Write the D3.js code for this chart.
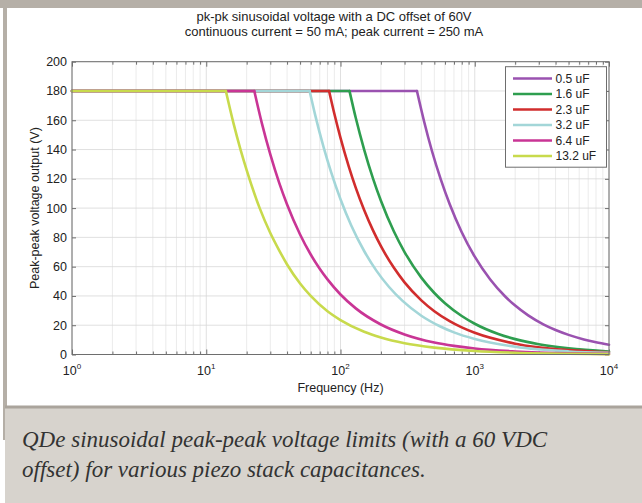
<!DOCTYPE html>
<html><head><meta charset="utf-8">
<script src="https://cdn.jsdelivr.net/npm/d3@7"></script>
<style>
html,body{margin:0;padding:0;background:#fff;}
svg{display:block;}
</style></head>
<body>
<svg id="chart" width="642" height="503"></svg>
<script>
// ---------- data ----------
const seriesNames = ["0.5 uF","1.6 uF","2.3 uF","3.2 uF","6.4 uF","13.2 uF"];
const seriesColors = ["#9a52b0","#2e9e4f","#d12d2d","#a3d6d8","#c93595","#c8da4c"];

const f_05  = [1, 371, 420, 480, 560, 650, 800, 1000, 1300, 1679, 2000, 2500, 3242, 4000, 5000, 6500, 8000, 10000];
const v_05  = [180, 180, 159, 139, 119.3, 102.8, 83.5, 66.8, 51.4, 39.8, 33.4, 26.7, 20.6, 16.7, 13.4, 10.3, 8.4, 6.7];

const f_16  = [1, 116.7, 130, 150, 175, 200, 250, 300, 400, 500, 600, 800, 1000, 1500, 2000, 3000, 5000, 10000];
const v_16  = [180, 180, 161.5, 140, 120, 105, 84, 70, 52.5, 42, 35, 26.3, 21, 14, 10.5, 7, 4.2, 2.1];

const f_23  = [1, 82.2, 90, 100, 115, 130, 150, 175, 200, 250, 300, 400, 500, 650, 800, 1000, 2000, 5000, 10000];
const v_23  = [180, 180, 164.4, 148, 128.7, 113.8, 98.7, 84.6, 74, 59.2, 49.3, 37, 29.6, 22.8, 18.5, 14.8, 7.4, 3, 1.5];

const f_32  = [1, 58.9, 65, 75, 85, 100, 120, 150, 185, 230, 290, 400, 550, 700, 1000, 2000, 5000, 10000];
const v_32  = [180, 180, 163, 141.3, 124.7, 106, 88.3, 70.7, 57.3, 46.1, 36.6, 26.5, 19.3, 15.1, 10.6, 5.3, 2.1, 1.1];

const f_64  = [1, 22.8, 26, 30, 35, 40, 50, 60, 70, 80, 100, 130, 200, 300, 500, 700, 1000, 2000, 5000, 10000];
const v_64  = [180, 180, 157.7, 136.7, 117.1, 102.5, 82, 68.3, 58.6, 51.3, 41, 31.5, 20.5, 13.7, 8.2, 5.9, 4.1, 2.1, 0.8, 0.4];

const f_132 = [1, 14, 16, 18, 20, 25, 30, 35, 40, 50, 60, 80, 100, 150, 200, 300, 500, 1000, 2000, 5000, 10000];
const v_132 = [180, 180, 157.5, 140, 126, 100, 83, 71, 61.5, 48.5, 40, 29.5, 23.5, 15.5, 11.6, 7.7, 4.7, 2.4, 1.2, 0.5, 0.25];

const yTicks = [0, 20, 40, 60, 80, 100, 120, 140, 160, 180, 200];
const xDecades = [0, 1, 2, 3, 4];

const titleLines = ["pk-pk sinusoidal voltage with a DC offset of 60V",
                    "continuous current = 50 mA; peak current = 250 mA"];
const xLabel = "Frequency (Hz)";
const yLabel = "Peak-peak voltage output (V)";
const captionLines = ["QDe sinusoidal peak-peak voltage limits (with a 60 VDC",
                      "offset) for various piezo stack capacitances."];

const seriesF = [f_05, f_16, f_23, f_32, f_64, f_132];
const seriesV = [v_05, v_16, v_23, v_32, v_64, v_132];

// ---------- layout ----------
const svg = d3.select("#chart");
const L = 72, R = 609, T = 61.7, B = 354.5;

// page frame
svg.append("rect").attr("x",0).attr("y",0).attr("width",642).attr("height",8).attr("fill","#b5afa7");
svg.append("rect").attr("x",3).attr("y",0).attr("width",4).attr("height",440).attr("fill","#b5afa7");
svg.append("rect").attr("x",5).attr("y",406).attr("width",637).attr("height",97).attr("fill","#d7d3cd");
svg.append("rect").attr("x",5).attr("y",405.5).attr("width",637).attr("height",3).attr("fill","#aaa49c");

const x = d3.scaleLog().domain([1, 10000]).range([L, R]);
const y = d3.scaleLinear().domain([0, 200]).range([B, T]);

// all log ticks
const allX = [];
xDecades.forEach(d => {
  if (d < 4) for (let m = 1; m <= 9; m++) allX.push(m * Math.pow(10, d));
  else allX.push(Math.pow(10, d));
});
const majorX = xDecades.map(d => Math.pow(10, d));
const minorX = allX.filter(v => !majorX.includes(v));

const g = svg.append("g");
// grid
g.selectAll(".gx").data(allX).join("line")
  .attr("x1", d => x(d)).attr("x2", d => x(d)).attr("y1", T).attr("y2", B)
  .attr("stroke", d => majorX.includes(d) ? "#d8d8d8" : "#e6e6e6").attr("stroke-width", 0.8);
g.selectAll(".gy").data(yTicks).join("line")
  .attr("x1", L).attr("x2", R).attr("y1", d => y(d)).attr("y2", d => y(d))
  .attr("stroke", "#d8d8d8").attr("stroke-width", 0.8);

// axes (inward ticks)
const axisColor = "#6e6e6e";
const tf = "Liberation Sans, Arial, sans-serif";
function styleAxis(sel) {
  sel.select(".domain").remove();
  sel.selectAll(".tick line").attr("stroke", axisColor);
  sel.selectAll(".tick text").attr("fill", "#222").style("font-family", tf).style("font-size", "12.5px");
}
svg.append("g").attr("transform", `translate(0,${B})`)
  .call(d3.axisBottom(x).tickValues(minorX).tickSize(-3).tickFormat("")).call(styleAxis);
svg.append("g").attr("transform", `translate(0,${B})`)
  .call(d3.axisBottom(x).tickValues(majorX).tickSize(-5).tickFormat("")).call(styleAxis);
svg.append("g").attr("transform", `translate(0,${T})`)
  .call(d3.axisTop(x).tickValues(minorX).tickSize(-3).tickFormat("")).call(styleAxis);
svg.append("g").attr("transform", `translate(0,${T})`)
  .call(d3.axisTop(x).tickValues(majorX).tickSize(-5).tickFormat("")).call(styleAxis);
svg.append("g").attr("transform", `translate(${L},0)`)
  .call(d3.axisLeft(y).tickValues(yTicks).tickSize(-4).tickPadding(5).tickFormat(d3.format("d"))).call(styleAxis);
svg.append("g").attr("transform", `translate(${R},0)`)
  .call(d3.axisRight(y).tickValues(yTicks).tickSize(-4).tickFormat("")).call(styleAxis);

// x tick labels 10^n
const xl = svg.append("g").style("font-family", tf).attr("fill", "#222");
xDecades.forEach(d => {
  const t = xl.append("text").attr("x", x(Math.pow(10, d))).attr("y", 375)
    .attr("text-anchor", "middle").style("font-size", "12.5px");
  t.append("tspan").text("10");
  t.append("tspan").attr("dy", -6).style("font-size", "8px").text(String(d));
});

// series
const lineLin = d3.line().x(p => x(p[0])).y(p => y(p[1]));
const lineCurve = d3.line().x(p => x(p[0])).y(p => y(p[1])).curve(d3.curveMonotoneX);
const plot = svg.append("g");
seriesNames.forEach((name, i) => {
  const pts = seriesF[i].map((f, j) => [f, seriesV[i][j]]);
  plot.append("path").attr("d", lineLin(pts.slice(0, 2)))
    .attr("fill", "none").attr("stroke", seriesColors[i]).attr("stroke-width", 2.6).attr("stroke-linecap", "round");
  plot.append("path").attr("d", lineCurve(pts.slice(1)))
    .attr("fill", "none").attr("stroke", seriesColors[i]).attr("stroke-width", 2.6)
    .attr("stroke-linecap", "round").attr("stroke-linejoin", "round");
});

// box
svg.append("rect").attr("x", L).attr("y", T).attr("width", R - L).attr("height", B - T)
  .attr("fill", "none").attr("stroke", axisColor).attr("stroke-width", 1);

// legend
const lg = svg.append("g");
lg.append("rect").attr("x", 505.5).attr("y", 66.7).attr("width", 101).attr("height", 100.5)
  .attr("fill", "#fff").attr("stroke", "#6e6e6e").attr("stroke-width", 1);
seriesNames.forEach((name, i) => {
  const yy = 78.5 + i * 15.5;
  lg.append("line").attr("x1", 513).attr("x2", 552).attr("y1", yy).attr("y2", yy)
    .attr("stroke", seriesColors[i]).attr("stroke-width", 2.6);
  lg.append("text").attr("x", 555.5).attr("y", yy + 4.2).text(name)
    .style("font-family", tf).style("font-size", "12px").attr("fill", "#222");
});

// titles & labels
svg.append("text").attr("x", 334).attr("y", 21).attr("text-anchor", "middle")
  .style("font-family", tf).style("font-size", "13px").attr("fill", "#222").text(titleLines[0]);
svg.append("text").attr("x", 334).attr("y", 36).attr("text-anchor", "middle")
  .style("font-family", tf).style("font-size", "13px").attr("fill", "#222").text(titleLines[1]);
svg.append("text").attr("x", 340.5).attr("y", 392).attr("text-anchor", "middle")
  .style("font-family", tf).style("font-size", "12.5px").attr("fill", "#222").text(xLabel);
svg.append("text").attr("transform", `translate(39,${(T + B) / 2}) rotate(-90)`).attr("text-anchor", "middle")
  .style("font-family", tf).style("font-size", "12.5px").attr("fill", "#222").text(yLabel);

// caption
captionLines.forEach((c, i) => {
  svg.append("text").attr("x", 22).attr("y", 447 + i * 30)
    .style("font-family", "Liberation Serif, Times New Roman, serif").style("font-style", "italic")
    .style("font-size", "23px").attr("fill", "#333").text(c);
});
</script>
</body></html>
